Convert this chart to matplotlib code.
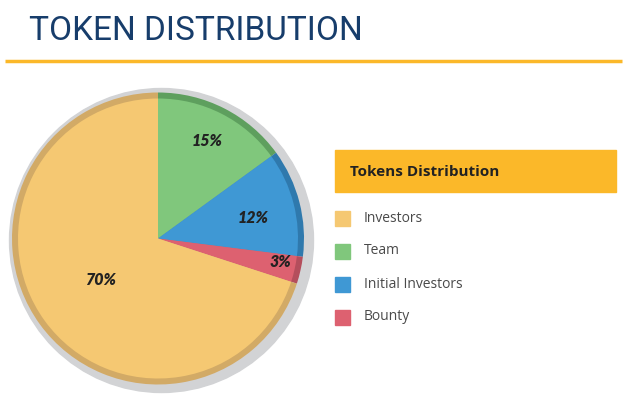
import numpy as np
import matplotlib
matplotlib.use("Agg")
from matplotlib import pyplot as plt
from matplotlib.patches import Circle, Rectangle

# donnees
labels = ["Team", "Initial Investors", "Bounty", "Investors"]
values = [15, 12, 3, 70]
colors = ["#80c77c", "#3f98d4", "#dd6170", "#f5c872"]
dark_colors = ["#5e9f5e", "#2f79ad", "#b44e5c", "#d2aa66"]
legend_order = ["Investors", "Team", "Initial Investors", "Bounty"]
title = "TOKEN DISTRIBUTION"
legend_title = "Tokens Distribution"

W, H = 640, 405


def py(y):
    # pixel y (haut) -> coordonnee axe
    return H - y


fig = plt.figure(figsize=(W / 100, H / 100), dpi=100)
ax = fig.add_axes([0, 0, 1, 1])
ax.set_xlim(0, W)
ax.set_ylim(0, H)
ax.set_aspect("equal")
ax.axis("off")

# titre + ligne
ax.text(29, py(31), title, fontsize=24, color="#173d6b", family="Roboto",
        va="center", ha="left")
ax.plot([5, 622], [py(61), py(61)], color="#fbb829", lw=2.5, solid_capstyle="butt")

# ombre du camembert
ax.add_patch(Circle((161.5, py(240.5)), 152, color="#d2d3d5", zorder=1))

# camembert : anneau sombre puis interieur clair
cx, cy = 158, py(238.5)
ax.pie(values, colors=dark_colors, startangle=90, counterclock=False,
       radius=146, center=(cx, cy), frame=True,
       wedgeprops=dict(linewidth=0, zorder=2))
wedges, _ = ax.pie(values, colors=colors, startangle=90, counterclock=False,
                   radius=140, center=(cx, cy), frame=True,
                   wedgeprops=dict(linewidth=0, zorder=3))
ax.set_xlim(0, W)
ax.set_ylim(0, H)
ax.axis("off")

# etiquettes en pourcentage
label_pos = [(207, 141), (253, 218), (280, 262), (101, 280)]
for v, (x, y) in zip(values, label_pos):
    ax.text(x, py(y), f"{v}%", fontsize=11.5, fontweight="heavy", style="italic",
            color="#222222", family="Lato", ha="center", va="center", zorder=5)

# legende
ax.add_patch(Rectangle((335, py(192)), 281, 42, color="#fbb829", zorder=2))
ax.text(350, py(172), legend_title, fontsize=11, fontweight="bold",
        color="#222222", family="Open Sans", ha="left", va="center", zorder=3)

for i, name in enumerate(legend_order):
    col = colors[labels.index(name)]
    yc = 218 + i * 33
    ax.add_patch(Rectangle((335, py(yc + 7.5)), 15, 15, color=col, zorder=2))
    ax.text(364, py(yc), name, fontsize=10, color="#4a4a4a", family="Open Sans",
            ha="left", va="center", zorder=3)

fig.savefig("out.png", dpi=100)
